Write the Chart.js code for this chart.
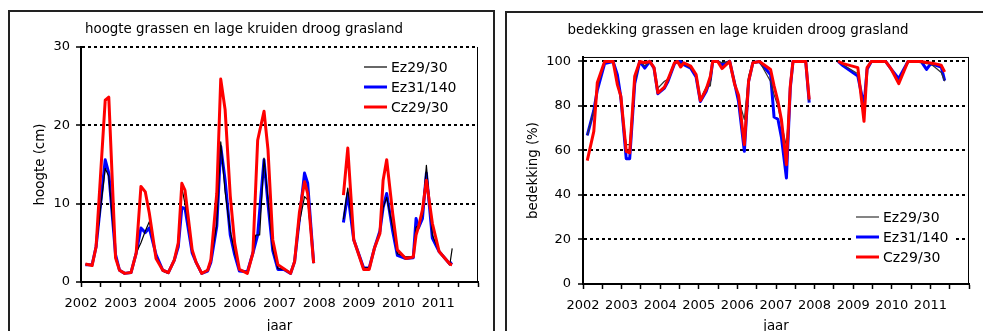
<!DOCTYPE html>
<html>
<head>
<meta charset="utf-8">
<script src="https://cdn.jsdelivr.net/npm/chart.js@4/dist/chart.umd.min.js"></script>
<style>
  body { margin: 0; background: #fff; width: 983px; height: 331px; overflow: hidden; position: relative; }
  .box { position: absolute; border: 2px solid #222; box-sizing: border-box; }
  #boxL { left: 8px; top: 10px; width: 487px; height: 345px; }
  #boxR { left: 505px; top: 11px; width: 500px; height: 345px; }
  canvas { position: absolute; }
  #hoogte { left: 10px; top: 12px; }
  #bedekking { left: 507px; top: 13px; }
</style>
</head>
<body>
<div class="box" id="boxL"></div>
<div class="box" id="boxR"></div>
<canvas id="hoogte" width="483" height="330"></canvas>
<canvas id="bedekking" width="474" height="330"></canvas>
<script>
const seriesNames = ['Ez29/30', 'Ez31/140', 'Cz29/30'];
const years = [2002, 2003, 2004, 2005, 2006, 2007, 2008, 2009, 2010, 2011];
const yTicksHoogte = [0, 10, 20, 30];
const yTicksBedekking = [0, 20, 40, 60, 80, 100];

// hoogte (cm), sampling dates as decimal years
const hDates = [2002.11, 2002.28, 2002.38, 2002.61, 2002.70, 2002.87, 2002.97,
  2003.10, 2003.26, 2003.39, 2003.51, 2003.62, 2003.72, 2003.89,
  2004.06, 2004.20, 2004.35, 2004.45, 2004.54, 2004.62, 2004.80, 2004.90,
  2005.04, 2005.19, 2005.27, 2005.42, 2005.52, 2005.63, 2005.76, 2005.87, 2005.99,
  2006.19, 2006.33, 2006.40, 2006.45, 2006.50, 2006.61, 2006.71, 2006.83, 2006.96,
  2007.11, 2007.28, 2007.38, 2007.50, 2007.63, 2007.71, 2007.86,
  2008.61, 2008.72, 2008.87,
  2009.12, 2009.26, 2009.39, 2009.53, 2009.61, 2009.70, 2009.85, 2009.97,
  2010.18, 2010.37, 2010.44, 2010.50, 2010.60, 2010.70, 2010.85,
  2011.02, 2011.29, 2011.35];
const hEz29 = [2.2, 2.2, 4.5, 14.5, 13.5, 3.3, 1.5,
  1.1, 1.2, 3.7, 5.0, 6.5, 7.7, 3.3,
  1.4, 1.1, 2.8, 5.0, 12.0, 10.0, 3.8, 2.5,
  1.1, 1.6, 2.8, 7.4, 17.9, 11.5, 6.5, 3.8, 1.6,
  1.2, 3.7, 6.0, null, 6.0, 15.8, 10.5, 4.2, 1.7,
  1.6, 1.1, 2.6, 7.5, 10.9, 10.5, 2.4,
  8.0, 12.0, 5.4,
  1.8, 1.8, 4.3, 6.5, 9.5, 10.8, 7.0, 3.6,
  3.2, 3.2, 7.0, 7.2, 8.5, 14.9, 6.0,
  3.9, 2.2, 4.3];
const hEz31 = [2.2, 2.2, 4.5, 15.6, 13.9, 3.5, 1.5,
  1.1, 1.2, 3.7, 6.9, 6.3, 6.9, 3.5,
  1.5, 1.2, 2.8, 4.5, 9.5, 9.4, 3.7, 2.5,
  1.1, 1.4, 2.5, 7.1, 17.3, 13.0, 6.0, 3.5, 1.4,
  1.3, 3.7, null, 6.0, 9.0, 15.6, 10.0, 4.0, 1.6,
  1.6, 1.1, 2.6, 8.0, 13.9, 12.6, 2.4,
  7.6, 11.3, 5.4,
  1.8, 1.8, 4.3, 6.5, 9.5, 11.3, 6.5, 3.4,
  3.0, 3.1, 8.1, 6.9, 8.1, 13.9, 5.6,
  3.9, 2.3, 2.5];
const hCz29 = [2.3, 2.1, 4.5, 23.2, 23.6, 3.1, 1.5,
  1.1, 1.2, 3.7, 12.2, 11.5, 8.8, 3.0,
  1.5, 1.2, 2.8, 5.0, 12.6, 11.7, 4.1, 2.5,
  1.1, 1.5, 2.8, 11.3, 25.9, 22.0, 11.0, 5.0, 1.6,
  1.1, 3.7, null, 18.1, null, 21.8, 16.9, 5.4, 2.2,
  1.7, 1.1, 2.6, 8.8, 12.8, 11.3, 2.4,
  11.1, 17.1, 5.4,
  1.6, 1.6, 4.3, 6.2, 13.0, 15.6, 8.8, 4.1,
  3.0, 3.2, 6.0, 7.0, 9.2, 13.0, 7.5,
  3.9, 2.3, 2.2];

// bedekking (%)
const bDates = [2002.11, 2002.28, 2002.37, 2002.56, 2002.78, 2002.89, 2002.98,
  2003.12, 2003.21, 2003.34, 2003.47, 2003.60, 2003.73, 2003.84, 2003.94,
  2004.11, 2004.20, 2004.37, 2004.45, 2004.53, 2004.61, 2004.79, 2004.93,
  2005.04, 2005.19, 2005.30, 2005.36, 2005.49, 2005.60, 2005.80, 2005.93,
  2006.03, 2006.18, 2006.29, 2006.40, 2006.57, 2006.86, 2006.95,
  2007.05, 2007.14, 2007.27, 2007.37, 2007.44, 2007.77, 2007.86,
  2008.61, 2008.74,
  2009.12, 2009.28, 2009.36, 2009.47, 2009.84, 2009.99,
  2010.18, 2010.42, 2010.76, 2010.90,
  2011.00, 2011.11, 2011.28, 2011.37];
const bEz29 = [66.8, 78.0, 88.0, 100, 100, 92.0, 82.0,
  62.6, 62.6, 90.0, 100, 98.0, 100, 97.0, 88.0,
  91.1, 92.0, 99.5, 100, 99.0, 99.0, 97.0, 94.0,
  83.0, 88.5, 89.0, 100, 100, 99.5, 100, 91.0,
  83.0, 73.9, 93.4, 99.4, 100, 91.0, 85.0,
  80.0, 72.0, 62.0, 88.0, 100, 100, 82.0,
  100, 98.5,
  94.5, 78.0, 97.0, 100, 100, 96.0,
  91.0, 100, 99.5, 99.0,
  99.0, 97.5, 95.0, 91.1];
const bEz31 = [66.8, 78.0, 87.0, 99.0, 100, 94.0, 84.0,
  56.3, 56.3, 90.0, 100, 97.0, 100, 97.0, 85.5,
  88.0, 91.0, 99.0, 100, 100, 98.5, 97.0, 93.0,
  82.0, 86.5, 92.0, 100, 100, 98.5, 100, 90.0,
  82.0, 59.6, 91.0, 99.4, 100, 94.0, 75.0,
  74.0, 66.0, 47.6, 88.0, 100, 100, 81.5,
  100, 98.0,
  93.4, 80.0, 96.5, 100, 100, 96.4,
  92.3, 100, 100, 96.4,
  98.8, 98.5, 97.5, 91.4];
const bCz29 = [55.4, 68.6, 90.4, 100, 100, 89.6, 84.4,
  59.6, 58.9, 93.4, 100, 99.4, 100, 97.2, 85.9,
  88.5, 91.9, 99.4, 100, 97.5, 99.4, 97.9, 94.1,
  82.4, 87.4, 93.4, 100, 100, 96.8, 100, 89.6,
  84.8, 62.6, 91.1, 99.4, 100, 96.4, 89.0,
  82.1, 73.9, 53.6, 88.9, 100, 100, 82.9,
  100, 99.0,
  97.2, 73.1, 97.2, 100, 100, 96.4,
  90.0, 100, 100, 99.5,
  99.3, 99.0, 98.3, 95.3];

const FONT = 'DejaVu Sans, Verdana, sans-serif';
Chart.defaults.font.family = FONT;
Chart.defaults.color = '#000';

function toPoints(dates, values) {
  return dates.map((d, i) => ({x: d, y: values[i]})).filter(p => p.y !== null);
}

// small plot frame (right / top edge) and a legend inside the plot area
const frameLegend = {
  id: 'frameLegend',
  afterDatasetsDraw(chart, args, opts) {
    const {ctx, chartArea: a} = chart;
    ctx.save();
    ctx.strokeStyle = '#000';
    ctx.lineWidth = 1;
    ctx.beginPath();
    if (opts.top) {
      ctx.moveTo(a.left, a.top + 0.5);
      ctx.lineTo(a.right, a.top + 0.5);
    }
    ctx.moveTo(a.right - 0.5, a.top);
    ctx.lineTo(a.right - 0.5, a.bottom);
    ctx.stroke();

    if (opts.fill) {
      ctx.fillStyle = '#fff';
      ctx.fillRect(opts.x - 3, opts.y - 12, 100, 63);
    }
    ctx.font = '14px ' + FONT;
    ctx.textBaseline = 'middle';
    chart.data.datasets.forEach((ds, i) => {
      const y = opts.y + i * 20;
      ctx.strokeStyle = ds.borderColor;
      ctx.lineWidth = ds.borderWidth;
      ctx.beginPath();
      ctx.moveTo(opts.x, y);
      ctx.lineTo(opts.x + 23, y);
      ctx.stroke();
      ctx.fillStyle = '#000';
      ctx.fillText(ds.label, opts.x + 27, y + 1);
    });
    ctx.restore();
  }
};

function makeDatasets(dates, ez29, ez31, cz29, blackColor) {
  const base = {pointRadius: 0, tension: 0, fill: false, borderJoinStyle: 'round', spanGaps: 0.5};
  return [
    Object.assign({label: seriesNames[0], data: toPoints(dates, ez29), borderColor: blackColor, borderWidth: 1.2, order: 1}, base),
    Object.assign({label: seriesNames[1], data: toPoints(dates, ez31), borderColor: '#0000ff', borderWidth: 3, order: 2}, base),
    Object.assign({label: seriesNames[2], data: toPoints(dates, cz29), borderColor: '#ff0000', borderWidth: 3, order: 0}, base)
  ];
}

function setChart(canvasID, cfg) {
  const ctx = document.getElementById(canvasID).getContext('2d');
  const xTicks = [];
  years.forEach(y => { xTicks.push(y, y + 0.5); });
  xTicks.push(years[years.length - 1] + 1);

  new Chart(ctx, {
    type: 'line',
    data: {datasets: cfg.datasets},
    options: {
      responsive: false,
      animation: false,
      devicePixelRatio: 1,
      layout: {padding: {left: 0, right: cfg.padRight, top: 0, bottom: 0}},
      plugins: {
        legend: {display: false},
        tooltip: {enabled: false},
        title: {
          display: true, text: cfg.title, color: '#000',
          font: {size: 13.4, weight: 'normal'},
          padding: cfg.titlePad
        },
        frameLegend: cfg.legend
      },
      scales: {
        x: {
          type: 'linear', min: 2002, max: 2012,
          afterBuildTicks: s => { s.ticks = xTicks.map(v => ({value: v})); },
          ticks: {
            autoSkip: false, maxRotation: 0, padding: 9,
            font: {size: 13},
            callback: v => years.includes(v) ? String(v) : ''
          },
          grid: {drawOnChartArea: false, tickLength: 5, tickColor: '#000', tickWidth: 1.5},
          border: {color: '#000', width: 2},
          title: {display: true, text: 'jaar', font: {size: 13.4}, padding: {top: 0, bottom: cfg.xTitleBottom}},
          afterFit: s => { s.height = cfg.xHeight; }
        },
        y: {
          min: 0, max: cfg.yMax,
          afterBuildTicks: s => { s.ticks = cfg.yTicks.map(v => ({value: v})); },
          ticks: {padding: cfg.yTickPad, font: {size: 13}},
          grid: {
            color: c => (c.tick && c.tick.value === 0) ? 'rgba(0,0,0,0)' : '#000',
            lineWidth: 2, tickLength: 5, tickColor: '#000', tickWidth: 1.5
          },
          border: {color: '#000', width: 2, dash: [3, 3]},
          title: {display: true, text: cfg.yTitle, font: {size: 13.4}, padding: {top: cfg.yTitleTop, bottom: 0}},
          afterFit: s => { s.width = cfg.yWidth; }
        }
      }
    },
    plugins: [frameLegend]
  });
}

setChart('hoogte', {
  title: 'hoogte grassen en lage kruiden droog grasland',
  titlePad: {top: 9.3, bottom: 9.6},
  datasets: makeDatasets(hDates, hEz29, hEz31, hCz29, '#000'),
  yMax: 30, yTicks: yTicksHoogte, yTitle: 'hoogte (cm)',
  yWidth: 71, yTickPad: 6, yTitleTop: 22,
  xHeight: 60, xTitleBottom: 7, padRight: 15,
  legend: {x: 354, y: 55, top: false, fill: false}
});

setChart('bedekking', {
  title: 'bedekking grassen en lage kruiden droog grasland',
  titlePad: {top: 9.7, bottom: 18.2},
  datasets: makeDatasets(bDates, bEz29, bEz31, bCz29, '#333'),
  yMax: 102, yTicks: yTicksBedekking, yTitle: 'bedekking (%)',
  yWidth: 76, yTickPad: 7, yTitleTop: 18,
  xHeight: 59, xTitleBottom: 8, padRight: 12,
  legend: {x: 349, y: 204, top: true, fill: true}
});
</script>
</body>
</html>
